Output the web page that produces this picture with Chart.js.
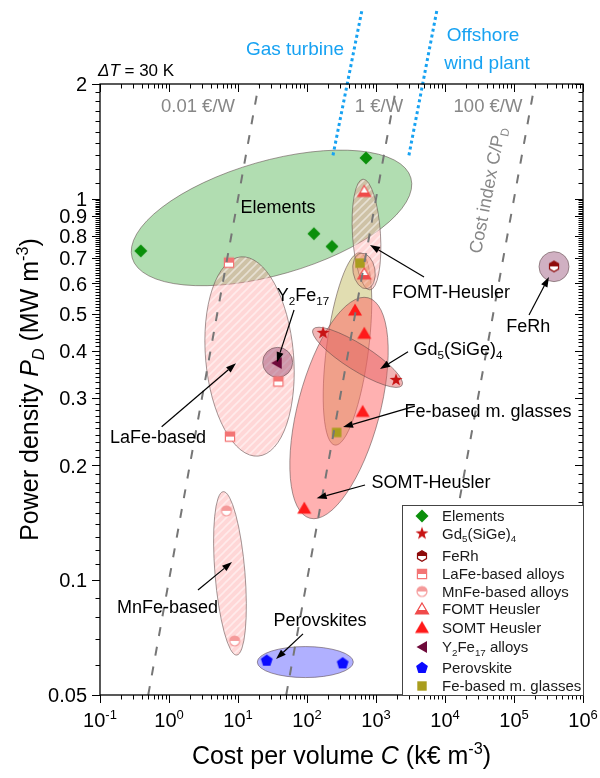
<!DOCTYPE html>
<html lang="en">
<head>
  <meta charset="UTF-8" />
  <title>Power density vs cost per volume of magnetocaloric materials</title>
  <script src="https://cdn.jsdelivr.net/npm/chart.js"></script>
  <style>
    body { margin: 0; background: #fff; }
    canvas { display: block; }
  </style>
</head>
<body>
  <canvas id="chart" width="600" height="778"></canvas>
  <script>
    const FONT = '"Liberation Sans", Arial, sans-serif';

    // ---- material data: cost per volume C (k€ m^-3), power density P_D (MW m^-3) ----
    const elementsC = [0.39, 716, 126, 230];
    const elementsP = [0.73, 1.28, 0.81, 0.75];
    const gdC = [171, 1950];
    const gdP = [0.445, 0.335];
    const ferhC = [3.8e5];
    const ferhP = [0.665];
    const lafeC = [7.4, 38.4, 7.65];
    const lafeP = [0.68, 0.332, 0.238];
    const mnfeC = [6.8, 8.95];
    const mnfeP = [0.152, 0.0693];
    const fomtC = [676, 676];
    const fomtP = [1.045, 0.635];
    const somtC = [497, 676, 641, 91.4];
    const somtP = [0.511, 0.444, 0.277, 0.1545];
    const y2fe17C = [36.4];
    const y2fe17P = [0.371];
    const perovC = [26.1, 329];
    const perovP = [0.0615, 0.0605];
    const glassC = [586, 269];
    const glassP = [0.678, 0.244];

    // cost index lines C/P_D in k€/MW (0.01, 1 and 100 €/W)
    const costIndex = [10, 1000, 1e5];
    const costLabels = ['0.01 €/W', '1 €/W', '100 €/W'];
    const pRange = [0.05, 2];

    // reference technologies (dotted blue), end points
    const gasTurbineC = [238, 627];
    const gasTurbineP = [1.30, 3.13];
    const offshoreC = [3000, 7650];
    const offshoreP = [1.30, 3.13];

    // axis ticks
    const xMajor = [0.1, 1, 10, 100, 1e3, 1e4, 1e5, 1e6];
    const xExp = ['-1', '0', '1', '2', '3', '4', '5', '6'];
    const yMajor = [2, 1, 0.9, 0.8, 0.7, 0.6, 0.5, 0.4, 0.3, 0.2, 0.1, 0.05];
    const yLabels = ['2', '1', '0.9', '0.8', '0.7', '0.6', '0.5', '0.4', '0.3', '0.2', '0.1', '0.05'];

    // shaded material regions: centre in data units
    const regionC = [30.6, 14.7, 7.65, 94.5, 3.8e5, 37.6, 386, 291, 540, 728, 670];
    const regionP = [0.891, 0.386, 0.1042, 0.061, 0.664, 0.3726, 0.404, 0.2828, 0.384, 0.806, 0.647];
    // half axes (px) and tilt (deg)
    const regionShape = [[145, 57, -16], [100, 44, 85], [82, 15, 85.3], [48, 15.5, 0], [15, 15, 0], [15, 15, 0],
                         [97, 21, 97.4], [114, 41, -75.2], [52.6, 13, 32.2], [55.5, 14, 86.4], [18, 11, 80]];
    const regionFill = ['rgba(60,170,60,0.4)', 'hatch', 'hatch', 'rgba(80,80,255,0.45)', 'rgba(120,30,80,0.35)',
                        'rgba(120,30,80,0.35)', 'rgba(180,170,60,0.4)', 'rgba(255,100,100,0.5)', 'rgba(225,90,90,0.45)',
                        'hatch', 'rgba(240,140,110,0.4)'];

    // annotation arrows [fromC, fromP, toC, toP]
    const arrows = [
      [4966, 0.624, 818, 0.757],      // FOMT-Heusler
      [1.65e5, 0.496, 3.21e5, 0.624], // FeRh
      [64.9, 0.511, 36.7, 0.373],     // Y2Fe17
      [2910, 0.397, 1143, 0.358],     // Gd5(SiGe)4
      [3673, 0.286, 333, 0.252],      // Fe-based m. glasses
      [0.783, 0.2526, 9.35, 0.3704],  // LaFe-based
      [693, 0.1777, 138, 0.164],      // SOMT-Heusler
      [2.63, 0.0943, 8.18, 0.1116],   // MnFe-based
      [87.5, 0.0723, 35.6, 0.0621]    // Perovskites
    ];

    // text annotations: [parts, C, P, size, colour, align, rotation deg]
    const notes = [
      [[['Elements', '']], 38.0, 0.952, 18, '#000', 'center', 0],
      [[['FOMT-Heusler', '']], 12200, 0.570, 18, '#000', 'center', 0],
      [[['FeRh', '']], 1.61e5, 0.464, 18, '#000', 'center', 0],
      [[['Y', ''], ['2', 'sub'], ['Fe', ''], ['17', 'sub']], 87.5, 0.560, 18, '#000', 'center', 0],
      [[['Gd', ''], ['5', 'sub'], ['(SiGe)', ''], ['4', 'sub']], 15400, 0.406, 18, '#000', 'center', 0],
      [[['Fe-based m. glasses', '']], 42000, 0.2777, 18, '#000', 'center', 0],
      [[['LaFe-based', '']], 0.693, 0.2374, 18, '#000', 'center', 0],
      [[['SOMT-Heusler', '']], 6270, 0.181, 18, '#000', 'center', 0],
      [[['MnFe-based', '']], 0.951, 0.0851, 18, '#000', 'center', 0],
      [[['Perovskites', '']], 154, 0.0791, 18, '#000', 'center', 0],
      [[[costLabels[0], '']], 2.63, 1.762, 18.5, '#878787', 'center', 0],
      [[[costLabels[1], '']], 1104, 1.762, 18.5, '#878787', 'center', 0],
      [[[costLabels[2], '']], 42000, 1.762, 18.5, '#878787', 'center', 0],
      [[['Cost index C/P', ''], ['D', 'sub']], 40600, 1.055, 18, '#878787', 'center', -79],
      [[['Gas turbine', '']], 67, 2.486, 19, '#17a2f2', 'center', 0],
      [[['Offshore', '']], 35600, 2.705, 19, '#17a2f2', 'center', 0],
      [[['wind plant', '']], 40600, 2.284, 19, '#17a2f2', 'center', 0],
      [[['ΔT', 'i'], [' = 30 K', '']], 0.0935, 2.176, 17, '#000', 'left', 0]
    ];

    function setFont(ctx, size, italic) {
      ctx.font = (italic ? 'italic ' : '') + size + 'px ' + FONT;
    }

    // draws text with sub/superscripts, y = baseline
    function rich(ctx, parts, x, y, size, align) {
      const segs = parts.map(([t, st]) => {
        const small = st.includes('sub') || st.includes('sup');
        const sz = small ? size * 0.65 : size;
        setFont(ctx, sz, st.includes('i'));
        return { t, st, sz, w: ctx.measureText(t).width };
      });
      const total = segs.reduce((s, g) => s + g.w, 0);
      let cx = align === 'center' ? x - total / 2 : align === 'right' ? x - total : x;
      ctx.textAlign = 'left';
      ctx.textBaseline = 'alphabetic';
      segs.forEach(s => {
        setFont(ctx, s.sz, s.st.includes('i'));
        const dy = s.st.includes('sub') ? size * 0.22 : s.st.includes('sup') ? -size * 0.42 : 0;
        ctx.fillText(s.t, cx, y + dy);
        cx += s.w;
      });
    }

    function makeMarker(shape, color) {
      const size = 18;
      const c = document.createElement('canvas');
      c.width = c.height = size;
      const g = c.getContext('2d');
      g.translate(size / 2, size / 2);
      g.lineWidth = 1.2;
      g.strokeStyle = color;
      g.fillStyle = color;
      const poly = pts => () => {
        g.beginPath();
        pts.forEach(([px, py], i) => i ? g.lineTo(px, py) : g.moveTo(px, py));
        g.closePath();
      };
      const ngon = (n, r, rot) => {
        const p = [];
        for (let i = 0; i < n; i++) {
          const t = rot + i * 2 * Math.PI / n;
          p.push([r * Math.cos(t), r * Math.sin(t)]);
        }
        return p;
      };
      const half = (path, y0, y1) => {
        path(); g.fillStyle = '#fff'; g.fill();
        g.save(); path(); g.clip();
        g.fillStyle = color; g.fillRect(-size, y0, 2 * size, y1 - y0);
        g.restore();
        path(); g.stroke();
      };
      const full = path => { path(); g.fill(); };
      if (shape === 'diamond') full(poly([[0, -6.5], [6.5, 0], [0, 6.5], [-6.5, 0]]));
      if (shape === 'star') {
        const p = [];
        for (let i = 0; i < 10; i++) {
          const r = i % 2 ? 2.7 : 6.8, t = -Math.PI / 2 + i * Math.PI / 5;
          p.push([r * Math.cos(t), r * Math.sin(t)]);
        }
        full(poly(p));
      }
      if (shape === 'hexHalf') half(poly(ngon(6, 5.2, -Math.PI / 2)), -size, 0);
      if (shape === 'squareHalf') half(poly([[-4.6, -4.6], [4.6, -4.6], [4.6, 4.6], [-4.6, 4.6]]), -size, 0);
      if (shape === 'circleHalf') half(() => { g.beginPath(); g.arc(0, 0, 5, 0, 2 * Math.PI); }, -size, 0);
      if (shape === 'triHalf') half(poly([[0, -6], [6.5, 5], [-6.5, 5]]), 1, size);
      if (shape === 'tri') full(poly([[0, -6.5], [7, 5.5], [-7, 5.5]]));
      if (shape === 'triLeft') full(poly([[-5.5, 0], [5, -6], [5, 6]]));
      if (shape === 'pentagon') full(poly(ngon(5, 6.2, -Math.PI / 2)));
      if (shape === 'square') full(poly([[-4.7, -4.7], [4.7, -4.7], [4.7, 4.7], [-4.7, 4.7]]));
      return c;
    }

    const series = [
      { label: [['Elements', '']], C: elementsC, P: elementsP, m: makeMarker('diamond', '#0b8f0b') },
      { label: [['Gd', ''], ['5', 'sub'], ['(SiGe)', ''], ['4', 'sub']], C: gdC, P: gdP, m: makeMarker('star', '#c81414') },
      { label: [['FeRh', '']], C: ferhC, P: ferhP, m: makeMarker('hexHalf', '#8e0b0b') },
      { label: [['LaFe-based alloys', '']], C: lafeC, P: lafeP, m: makeMarker('squareHalf', '#f37474') },
      { label: [['MnFe-based alloys', '']], C: mnfeC, P: mnfeP, m: makeMarker('circleHalf', '#f59a9a') },
      { label: [['FOMT Heusler', '']], C: fomtC, P: fomtP, m: makeMarker('triHalf', '#f04a4a') },
      { label: [['SOMT Heusler', '']], C: somtC, P: somtP, m: makeMarker('tri', '#ff1a1a') },
      { label: [['Y', ''], ['2', 'sub'], ['Fe', ''], ['17', 'sub'], [' alloys', '']], C: y2fe17C, P: y2fe17P, m: makeMarker('triLeft', '#6e0a3a') },
      { label: [['Perovskite', '']], C: perovC, P: perovP, m: makeMarker('pentagon', '#0a0aff') },
      { label: [['Fe-based m. glasses', '']], C: glassC, P: glassP, m: makeMarker('square', '#a99d1e') }
    ];
    const legendRows = [11, 28.5, 51, 69, 86.5, 104, 122.5, 142, 163, 181];

    const pts = (C, P) => C.map((c, i) => ({ x: c, y: P[i] }));

    const datasets = [];
    costIndex.forEach(k => datasets.push({
      data: pRange.map(p => ({ x: k * p, y: p })),
      showLine: true, pointRadius: 0, borderColor: '#767676', borderWidth: 2, borderDash: [9, 11]
    }));
    [[gasTurbineC, gasTurbineP], [offshoreC, offshoreP]].forEach(([C, P]) => datasets.push({
      data: pts(C, P), showLine: true, pointRadius: 0, borderColor: '#17a2f2', borderWidth: 3,
      borderDash: [3, 3], clip: false
    }));
    series.forEach(s => datasets.push({
      data: pts(s.C, s.P), pointStyle: s.m, pointRadius: 6, showLine: false
    }));

    let hatch = null;
    function hatchPattern(ctx) {
      if (hatch) return hatch;
      const c = document.createElement('canvas');
      c.width = c.height = 8;
      const g = c.getContext('2d');
      g.fillStyle = 'rgba(255,150,150,0.38)';
      g.fillRect(0, 0, 8, 8);
      g.strokeStyle = 'rgba(255,255,255,0.5)';
      g.lineWidth = 1.6;
      g.beginPath();
      g.moveTo(0, 8); g.lineTo(8, 0);
      g.moveTo(-4, 4); g.lineTo(4, -4);
      g.moveTo(4, 12); g.lineTo(12, 4);
      g.stroke();
      hatch = ctx.createPattern(c, 'repeat');
      return hatch;
    }

    function drawArrow(ctx, x1, y1, x2, y2) {
      const ang = Math.atan2(y2 - y1, x2 - x1), L = 10, W = 3.5;
      ctx.beginPath();
      ctx.moveTo(x1, y1);
      ctx.lineTo(x2 - L * Math.cos(ang), y2 - L * Math.sin(ang));
      ctx.stroke();
      ctx.beginPath();
      ctx.moveTo(x2, y2);
      ctx.lineTo(x2 - L * Math.cos(ang) + W * Math.sin(ang), y2 - L * Math.sin(ang) - W * Math.cos(ang));
      ctx.lineTo(x2 - L * Math.cos(ang) - W * Math.sin(ang), y2 - L * Math.sin(ang) + W * Math.cos(ang));
      ctx.closePath();
      ctx.fill();
    }

    const decor = {
      id: 'decor',
      beforeDatasetsDraw(chart) {
        const { ctx, scales: { x, y } } = chart;
        ctx.save();
        regionC.forEach((c, i) => {
          const [a, b, deg] = regionShape[i];
          ctx.beginPath();
          ctx.ellipse(x.getPixelForValue(c), y.getPixelForValue(regionP[i]), a, b, deg * Math.PI / 180, 0, 2 * Math.PI);
          ctx.fillStyle = regionFill[i] === 'hatch' ? hatchPattern(ctx) : regionFill[i];
          ctx.fill();
          ctx.strokeStyle = 'rgba(90,70,70,0.55)';
          ctx.lineWidth = 1;
          ctx.stroke();
        });
        ctx.restore();
      },
      afterDraw(chart) {
        const { ctx, chartArea: { left, right, top, bottom }, scales: { x, y } } = chart;
        ctx.save();

        // frame and ticks (left/bottom outward, top/right inward)
        ctx.strokeStyle = '#000';
        ctx.lineWidth = 1.3;
        ctx.strokeRect(left, top, right - left, bottom - top);
        ctx.lineWidth = 1;
        ctx.beginPath();
        const seg = (a, b, c, d) => { ctx.moveTo(a, b); ctx.lineTo(c, d); };
        const xMinor = [], yMinor = [];
        for (let d = 0.1; d < 1e6; d *= 10) for (let k = 2; k <= 9; k++) xMinor.push(k * d);
        for (let k = 11; k < 20; k++) yMinor.push(k / 10);
        for (let k = 6; k < 100; k++) if (!yMajor.includes(k / 100) && k % 10) yMinor.push(k / 100);
        xMajor.forEach(v => { const p = Math.round(x.getPixelForValue(v)) + 0.5; seg(p, bottom, p, bottom + 8); seg(p, top, p, top + 8); });
        xMinor.forEach(v => { const p = Math.round(x.getPixelForValue(v)) + 0.5; seg(p, bottom, p, bottom + 4.5); seg(p, top, p, top + 4.5); });
        yMajor.forEach(v => { const p = Math.round(y.getPixelForValue(v)) + 0.5; seg(left - 8, p, left, p); seg(right - 8, p, right, p); });
        yMinor.forEach(v => { const p = Math.round(y.getPixelForValue(v)) + 0.5; seg(left - 4.5, p, left, p); seg(right - 4.5, p, right, p); });
        ctx.stroke();

        // tick labels
        ctx.fillStyle = '#000';
        xMajor.forEach((v, i) => rich(ctx, [['10', ''], [xExp[i], 'sup']], x.getPixelForValue(v), 727, 20, 'center'));
        yMajor.forEach((v, i) => rich(ctx, [[yLabels[i], '']], left - 13, y.getPixelForValue(v) + 7.2, 20, 'right'));

        // axis titles
        rich(ctx, [['Cost per volume ', ''], ['C', 'i'], [' (k€ m', ''], ['-3', 'sup'], [')', '']],
          (left + right) / 2, 764, 25, 'center');
        ctx.save();
        ctx.translate(38, (top + bottom) / 2);
        ctx.rotate(-Math.PI / 2);
        rich(ctx, [['Power density ', ''], ['P', 'i'], ['D', 'isub'], [' (MW m', ''], ['-3', 'sup'], [')', '']], 0, 0, 25, 'center');
        ctx.restore();

        // legend
        const lw = 181, lh = 190, lx = right - lw, ly = bottom - lh;
        ctx.fillStyle = '#fff';
        ctx.fillRect(lx, ly, lw, lh);
        ctx.strokeStyle = '#444';
        ctx.lineWidth = 1;
        ctx.strokeRect(lx + 0.5, ly + 0.5, lw, lh);
        series.forEach((s, i) => {
          const ry = ly + legendRows[i];
          ctx.drawImage(s.m, lx + 20 - s.m.width / 2, ry - s.m.height / 2);
          ctx.fillStyle = '#1a1a1a';
          rich(ctx, s.label, lx + 40, ry + 5.4, 15, 'left');
        });

        // arrows
        ctx.strokeStyle = '#000';
        ctx.fillStyle = '#000';
        ctx.lineWidth = 1.2;
        arrows.forEach(([c1, p1, c2, p2]) =>
          drawArrow(ctx, x.getPixelForValue(c1), y.getPixelForValue(p1), x.getPixelForValue(c2), y.getPixelForValue(p2)));

        // text notes
        notes.forEach(([parts, c, p, size, color, align, rot]) => {
          ctx.save();
          ctx.translate(x.getPixelForValue(c), y.getPixelForValue(p));
          ctx.rotate(rot * Math.PI / 180);
          ctx.fillStyle = color;
          rich(ctx, parts, 0, size * 0.36, size, align);
          ctx.restore();
        });
        ctx.restore();
      }
    };

    new Chart(document.getElementById('chart'), {
      type: 'scatter',
      data: { datasets },
      options: {
        responsive: false,
        animation: false,
        devicePixelRatio: 1,
        events: [],
        layout: { padding: { top: 84, right: 17, left: 0, bottom: 0 }, autoPadding: false },
        plugins: { legend: { display: false }, tooltip: { enabled: false } },
        scales: {
          x: {
            type: 'logarithmic', min: 0.1, max: 1e6,
            ticks: { display: false }, grid: { display: false }, border: { display: false },
            afterFit: s => { s.height = 83; }
          },
          y: {
            type: 'logarithmic', min: 0.05, max: 2,
            ticks: { display: false }, grid: { display: false }, border: { display: false },
            afterFit: s => { s.width = 100; }
          }
        }
      },
      plugins: [decor]
    });
  </script>
</body>
</html>
